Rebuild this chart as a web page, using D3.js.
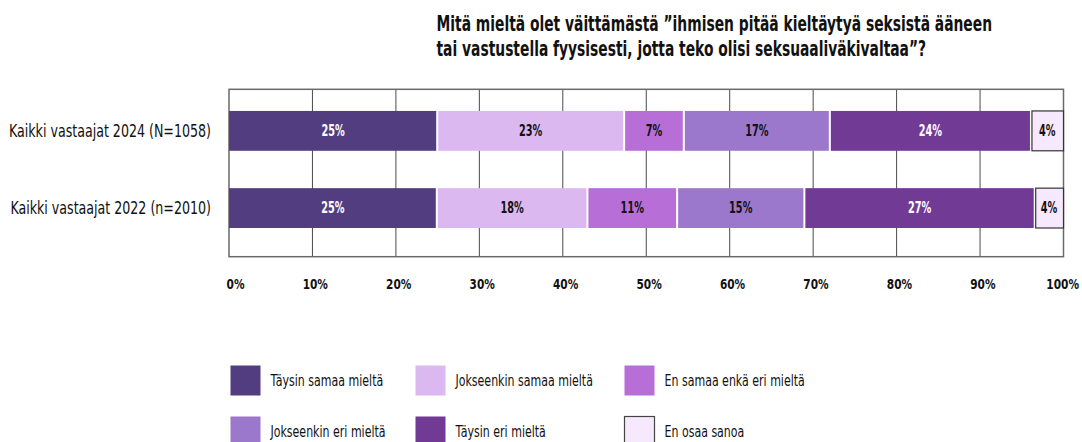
<!DOCTYPE html>
<html>
<head>
<meta charset="utf-8">
<script src="https://cdn.jsdelivr.net/npm/d3@7"></script>
<style>
  html, body { margin: 0; padding: 0; background: #fff; }
  svg { display: block; }
  .cond { font-family: "Liberation Sans Narrow", "DejaVu Sans Condensed", "Roboto Condensed", sans-serif; }
</style>
</head>
<body>
<div id="chart"></div>
<script>
// ---- data ----
const titleLines = [
  "Mitä mieltä olet väittämästä ”ihmisen pitää kieltäytyä seksistä ääneen",
  "tai vastustella fyysisesti, jotta teko olisi seksuaaliväkivaltaa”?"
];
const categories = ["Kaikki vastaajat 2024 (N=1058)", "Kaikki vastaajat 2022 (n=2010)"];
const seriesNames = ["Täysin samaa mieltä", "Jokseenkin samaa mieltä", "En samaa enkä eri mieltä",
                     "Jokseenkin eri mieltä", "Täysin eri mieltä", "En osaa sanoa"];
const values2024 = [24.95, 22.4, 7.15, 17.5, 24.1, 3.9];
const values2022 = [24.9, 18.05, 10.75, 15.25, 27.6, 3.45];
const labels2024 = ["25%", "23%", "7%", "17%", "24%", "4%"];
const labels2022 = ["25%", "18%", "11%", "15%", "27%", "4%"];
const tickValues = [0, 10, 20, 30, 40, 50, 60, 70, 80, 90, 100];
const tickLabels = ["0%", "10%", "20%", "30%", "40%", "50%", "60%", "70%", "80%", "90%", "100%"];

// ---- styles ----
const colors = ["#533d81", "#dcb8f0", "#b76ed6", "#9c78cc", "#703a95", "#f7e9fd"];
const textColors = ["#fff", "#111", "#111", "#111", "#fff", "#111"];

const W = 1082, H = 442;
const plot = { left: 229, right: 1063.5, top: 89.3, bottom: 256.7 };

const svg = d3.select("#chart").append("svg")
  .attr("width", W).attr("height", H)
  .attr("class", "cond");

// condense a text selection horizontally: factor k derived from a reference text/width
function condense(sel, k) {
  sel.each(function () {
    const n = this.getComputedTextLength();
    d3.select(this).attr("textLength", n * k).attr("lengthAdjust", "spacingAndGlyphs");
  });
}
function factorFor(sel, targetWidth) {
  return targetWidth / sel.node().getComputedTextLength();
}

const x = d3.scaleLinear().domain([0, 100]).range([plot.left, plot.right]);
const y = d3.scaleBand().domain(categories)
  .range([plot.top, plot.bottom])
  .paddingInner(0.484).paddingOuter(0.326).align(0.43);

// Title
const title = svg.append("g").selectAll("text").data(titleLines).join("text")
  .attr("x", 436.5)
  .attr("y", (d, i) => 31 + i * 25)
  .attr("font-size", 20.5)
  .attr("font-weight", "bold")
  .attr("fill", "#111")
  .text(d => d);
condense(title, factorFor(title, 555.5));

// gridlines
svg.append("g").selectAll("line").data(tickValues.slice(1, -1)).join("line")
  .attr("x1", d => x(d)).attr("x2", d => x(d))
  .attr("y1", plot.top).attr("y2", plot.bottom)
  .attr("stroke", "#4a4a4a").attr("stroke-width", 1);

// frame
svg.append("rect")
  .attr("x", plot.left).attr("y", plot.top)
  .attr("width", plot.right - plot.left).attr("height", plot.bottom - plot.top)
  .attr("fill", "none").attr("stroke", "#6a6a6a").attr("stroke-width", 1.5);

// bars
const rows = [
  { cat: categories[0], values: values2024, labels: labels2024 },
  { cat: categories[1], values: values2022, labels: labels2022 }
];
let barK = null;
rows.forEach(row => {
  let cum = 0;
  const segs = row.values.map((v, i) => {
    const s = { i, x0: cum, x1: cum + v, label: row.labels[i] };
    cum += v;
    return s;
  });
  const g = svg.append("g");
  g.selectAll("rect").data(segs).join("rect")
    .attr("x", d => x(d.x0) + (d.i === 0 ? 0 : 1))
    .attr("width", d => x(d.x1) - x(d.x0) - (d.i === 0 ? 1 : (d.i === 5 ? 1 : 2)))
    .attr("y", y(row.cat))
    .attr("height", y.bandwidth())
    .attr("fill", d => colors[d.i])
    .attr("stroke", d => d.i === 5 ? "#333" : "none")
    .attr("stroke-width", 1.2);
  const t = g.selectAll("text").data(segs).join("text")
    .attr("x", d => (x(d.x0) + x(d.x1)) / 2)
    .attr("y", y(row.cat) + y.bandwidth() / 2)
    .attr("dy", "0.36em")
    .attr("text-anchor", "middle")
    .attr("font-size", 15)
    .attr("font-weight", "bold")
    .attr("fill", d => textColors[d.i])
    .text(d => d.label);
  if (barK === null) barK = factorFor(t, 23.3);
  condense(t, barK);
});

// category labels
const catT = svg.append("g").selectAll("text").data(categories).join("text")
  .attr("x", 211)
  .attr("y", d => y(d) + y.bandwidth() / 2)
  .attr("dy", "0.36em")
  .attr("text-anchor", "end")
  .attr("font-size", 17)
  .attr("fill", "#111")
  .text(d => d);
condense(catT, factorFor(catT, 202));

// x tick labels
const tickT = svg.append("g").selectAll("text").data(tickValues).join("text")
  .attr("x", d => x(d) + 15.5)
  .attr("y", 289)
  .attr("text-anchor", "end")
  .attr("font-size", 14.5)
  .attr("font-weight", "bold")
  .attr("fill", "#111")
  .text((d, i) => tickLabels[i]);
condense(tickT, factorFor(tickT.filter((d, i) => i === 1), 25.3));

// legend
const legendCols = [230, 415, 624];
const legendRows = [365, 416];
const lg = svg.append("g").selectAll("g").data(seriesNames).join("g")
  .attr("transform", (d, i) => `translate(${legendCols[i % 3]},${legendRows[Math.floor(i / 3)]})`);
lg.append("rect")
  .attr("x", 0.5).attr("y", 0.5).attr("width", 30).attr("height", 30)
  .attr("fill", (d, i) => colors[i])
  .attr("stroke", (d, i) => i === 5 ? "#444" : "none")
  .attr("stroke-width", 1.2);
const legT = lg.append("text")
  .attr("x", 40.5).attr("y", 16)
  .attr("dy", "0.36em")
  .attr("font-size", 15)
  .attr("fill", "#111")
  .text(d => d);
condense(legT, factorFor(legT, 112.7));
</script>
</body>
</html>
